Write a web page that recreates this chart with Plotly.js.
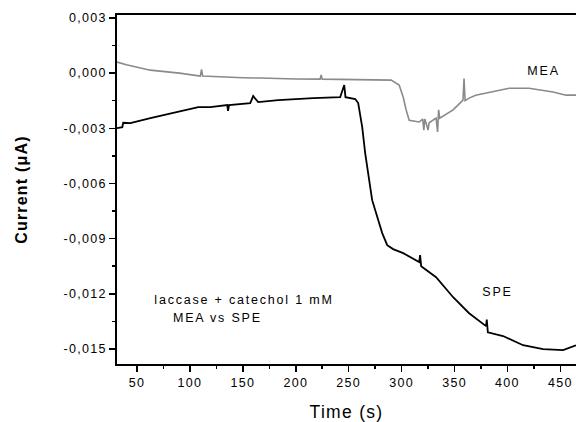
<!DOCTYPE html>
<html>
<head>
<meta charset="utf-8">
<script src="https://cdn.plot.ly/plotly-3.0.1.min.js"></script>
<style>
html,body{margin:0;padding:0;background:#fff;}
#chart{width:576px;height:422px;}
#chart .xtick text, #chart .ytick text{letter-spacing:1.3px;}
#chart .annotation-text{letter-spacing:1.8px;}
#chart .g-xtitle text{letter-spacing:1.3px;}
#chart .g-ytitle text{letter-spacing:1.2px;}
</style>
</head>
<body>
<div id="chart"></div>
<script>
// MEA electrode (gray)
const meaTime = [31.1, 40, 62.6, 90, 109.8, 111, 112, 125, 150, 166.4, 180, 200, 223, 224, 225, 240, 260, 276, 290.2, 297.7, 301.5, 304.3, 307.2, 316.6, 320, 321, 322, 323.2, 325, 326, 332.6, 334, 335, 336, 348.7, 358, 359, 360, 363.8, 370, 379.8, 401.6, 420.4, 443.1, 455.4, 464.8];
const meaCurrent = [0.0006, 0.00045, 0.00016, 0.0, -0.00016, 0.0002, -0.00016, -0.0002, -0.00025, -0.00027, -0.0003, -0.00032, -0.00033, -0.0001, -0.00033, -0.00035, -0.00037, -0.00038, -0.00038, -0.00065, -0.0013, -0.002, -0.00256, -0.00266, -0.0025, -0.0031, -0.0025, -0.00272, -0.0031, -0.0027, -0.00245, -0.0032, -0.0020, -0.00245, -0.002, -0.00147, -0.0003, -0.0015, -0.00136, -0.0012, -0.00109, -0.00082, -0.00082, -0.00103, -0.0012, -0.0012];

// SPE electrode (black)
const speTime = [31.1, 36.1, 37, 43.7, 62.6, 86.2, 107.9, 119.2, 135.3, 136, 137, 157, 159.8, 164.5, 183.4, 216.5, 242, 245.8, 247, 256.2, 259, 262.8, 265.6, 272.2, 276.9, 281.7, 286.4, 292, 301.5, 316.6, 317.5, 318.5, 332.6, 348.7, 363.8, 379.8, 380.5, 381.5, 395.9, 414.8, 433.7, 452.6, 464.8];
const speCurrent = [-0.00299, -0.00294, -0.0027, -0.00272, -0.00245, -0.00212, -0.00185, -0.00185, -0.00174, -0.00205, -0.00174, -0.00163, -0.00125, -0.00158, -0.00147, -0.00136, -0.00131, -0.00065, -0.00131, -0.00141, -0.00163, -0.00294, -0.00435, -0.00691, -0.00783, -0.0087, -0.00936, -0.00957, -0.00979, -0.01028, -0.0099, -0.0105, -0.0111, -0.01219, -0.01306, -0.01376, -0.0134, -0.0141, -0.0143, -0.0148, -0.01501, -0.01507, -0.0148];

// Axis ticks
const xTickVals = [50, 100, 150, 200, 250, 300, 350, 400, 450];
const xTickText = ['50', '100', '150', '200', '250', '300', '350', '400', '450'];
const yTickVals = [0.003, 0, -0.003, -0.006, -0.009, -0.012, -0.015];
const yTickText = ['0,003', '0,000', '-0,003', '-0,006', '-0,009', '-0,012', '-0,015'];

const font = 'Liberation Sans, Arial, sans-serif';

const traces = [
  {x: meaTime, y: meaCurrent, type: 'scatter', mode: 'lines', name: 'MEA',
   line: {color: '#8a8a8a', width: 1.6}},
  {x: speTime, y: speCurrent, type: 'scatter', mode: 'lines', name: 'SPE',
   line: {color: '#000000', width: 1.8}}
];

const layout = {
  width: 576, height: 422,
  margin: {l: 117, r: 0, t: 15, b: 58},
  paper_bgcolor: '#ffffff', plot_bgcolor: '#ffffff',
  showlegend: false,
  font: {family: font, size: 12, color: '#000'},
  xaxis: {
    range: [31.1, 464.8],
    tickvals: xTickVals, ticktext: xTickText,
    ticks: 'outside', ticklen: 6, tickwidth: 1.5, tickcolor: '#000',
    minor: {tickvals: [75, 125, 175, 225, 275, 325, 375, 425], ticks: 'outside', ticklen: 3, tickwidth: 1.5, tickcolor: '#000'},
    showline: true, linecolor: '#000', linewidth: 1.8, mirror: true,
    showgrid: false, zeroline: false,
    tickfont: {family: font, size: 12.5, color: '#000'},
    title: {text: 'Time (s)', font: {family: font, size: 17.5, color: '#000'}, standoff: 19}
  },
  yaxis: {
    range: [-0.01582, 0.00316],
    tickvals: yTickVals, ticktext: yTickText,
    ticks: 'outside', ticklen: 6, tickwidth: 1.5, tickcolor: '#000',
    minor: {tickvals: [0.0015, -0.0015, -0.0045, -0.0075, -0.0105, -0.0135], ticks: 'outside', ticklen: 3, tickwidth: 1.5, tickcolor: '#000'},
    showline: true, linecolor: '#000', linewidth: 1.8, mirror: false,
    showgrid: false, zeroline: false,
    tickfont: {family: font, size: 12.5, color: '#000'},
    title: {text: '<b>Current (μA)</b>', font: {family: font, size: 16, color: '#000'}, standoff: 40}
  },
  annotations: [
    {x: 243.5, y: 300, xref: 'paper', yref: 'paper', text: 'laccase + catechol 1 mM', showarrow: false, xanchor: 'center', yanchor: 'middle', font: {family: font, size: 12.5, color: '#000'}},
    {x: 217.5, y: 318, xref: 'paper', yref: 'paper', text: 'MEA vs SPE', showarrow: false, xanchor: 'center', yanchor: 'middle', font: {family: font, size: 12.5, color: '#000'}},
    {x: 544, y: 71, xref: 'paper', yref: 'paper', text: 'MEA', showarrow: false, xanchor: 'center', yanchor: 'middle', font: {family: font, size: 12.5, color: '#000'}},
    {x: 497, y: 292, xref: 'paper', yref: 'paper', text: 'SPE', showarrow: false, xanchor: 'center', yanchor: 'middle', font: {family: font, size: 12.5, color: '#000'}}
  ]
};
// convert pixel-placed annotations to paper coordinates
const pw = 576 - 117, ph = 422 - 15 - 58;
layout.annotations.forEach(a => { a.x = (a.x - 117) / pw; a.y = 1 - (a.y - 15) / ph; });

Plotly.newPlot('chart', traces, layout, {staticPlot: true, displayModeBar: false});
</script>
</body>
</html>
